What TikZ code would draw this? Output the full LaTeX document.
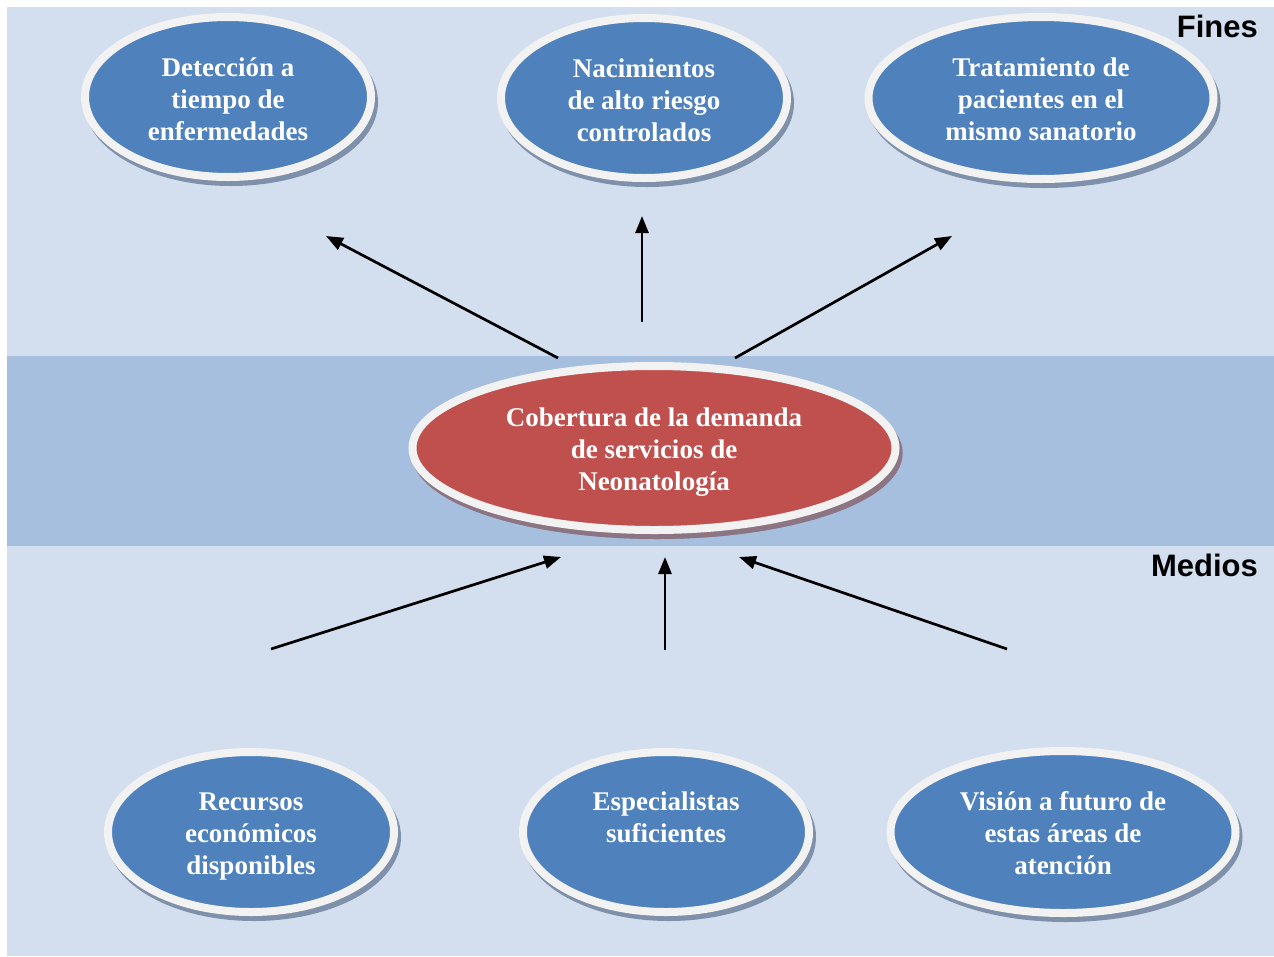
\documentclass[tikz,border=0pt]{standalone}
\usepackage{fontspec}
\setmainfont{Liberation Serif}
\newfontfamily\headfont{Liberation Sans}
\usetikzlibrary{arrows.meta,calc,shapes.geometric}

\definecolor{lightband}{HTML}{D3DFEE}
\definecolor{midband}{HTML}{A7BFDE}
\definecolor{ovalblue}{HTML}{4F81BD}
\definecolor{ovalred}{HTML}{C0504D}
\definecolor{ring}{HTML}{F2F2F2}
\definecolor{shadeblue}{HTML}{7F90AA}
\definecolor{shadered}{HTML}{8C7482}

\tikzset{
  oval/.style={ellipse, draw=ring, line width=8pt, inner sep=0pt,
    fill=ovalblue,
    preaction={draw=shadeblue, fill=shadeblue,
      transform canvas={xshift=3pt, yshift=-5pt}}},
  smalloval/.style={oval, minimum width=286pt, minimum height=160pt},
  wideoval/.style={oval, minimum width=345pt, minimum height=162pt},
  centeroval/.style={oval, fill=ovalred, minimum width=483pt, minimum height=164pt,
    preaction={draw=shadered, fill=shadered,
      transform canvas={xshift=3pt, yshift=-5pt}}},
  ovaltext/.style={anchor=north, inner sep=0pt, align=center, text=white,
    font=\bfseries\fontsize{27}{32}\selectfont},
  heading/.style={anchor=base east, inner sep=0pt,
    font=\headfont\bfseries\fontsize{31}{36}\selectfont},
  arrowline/.style={line width=2.7pt, -{Triangle[length=17pt,width=13pt]}}
}

\begin{document}
\begin{tikzpicture}[x=1pt, y=-1pt]
  \useasboundingbox (0,0) rectangle (1274,956);
  \fill[white] (0,0) rectangle (1274,956);

  % background bands
  \fill[lightband] (7,7) rectangle (1274,956);
  \fill[midband] (7,356) rectangle (1274,546);

  % ends (top row)
  \node[smalloval] (f1) at (228,97) {};
  \node[smalloval] (f2) at (644,98) {};
  \node[wideoval]  (f3) at (1041,98) {};

  % central problem
  \node[centeroval] (core) at (654,448) {};

  % means (bottom row)
  \node[smalloval] (m1) at (251,832) {};
  \node[smalloval] (m2) at (666,832) {};
  \node[wideoval]  (m3) at (1063,832) {};

  % texts
  \node[ovaltext] (f1t) at ($(f1)+(0,-43)$) {\strut Detección a\\tiempo de\\enfermedades};
  \node[ovaltext] (f2t) at ($(f2)+(0,-43)$) {\strut Nacimientos\\de alto riesgo\\controlados};
  \node[ovaltext] (f3t) at ($(f3)+(0,-44)$) {\strut Tratamiento de\\pacientes en el\\mismo sanatorio};
  \node[ovaltext] (coret) at ($(core)+(0,-44)$) {\strut Cobertura de la demanda\\de servicios de\\Neonatología};
  \node[ovaltext] (m1t) at ($(m1)+(0,-44)$) {\strut Recursos\\económicos\\disponibles};
  \node[ovaltext] (m2t) at ($(m2)+(0,-44)$) {\strut Especialistas\\suficientes};
  \node[ovaltext] (m3t) at ($(m3)+(0,-44)$) {\strut Visión a futuro de\\estas áreas de\\atención};

  % section headings
  \node[heading] (fines) at (1258,37) {Fines};
  \node[heading] (medios) at (1258,576) {Medios};

  % arrow end points
  \coordinate (u1a) at (558,358);  \coordinate (u1b) at (326,236);
  \coordinate (u2a) at (642,322);  \coordinate (u2b) at (642,216);
  \coordinate (u3a) at (735,358);  \coordinate (u3b) at (952,236);
  \coordinate (d1a) at (271,649);  \coordinate (d1b) at (561,557);
  \coordinate (d2a) at (665,650);  \coordinate (d2b) at (665,557);
  \coordinate (d3a) at (1007,649); \coordinate (d3b) at (739,557);

  \draw[arrowline] (u1a) -- (u1b);
  \draw[arrowline] (u2a) -- (u2b);
  \draw[arrowline] (u3a) -- (u3b);
  \draw[arrowline] (d1a) -- (d1b);
  \draw[arrowline] (d2a) -- (d2b);
  \draw[arrowline] (d3a) -- (d3b);
\end{tikzpicture}
\end{document}
